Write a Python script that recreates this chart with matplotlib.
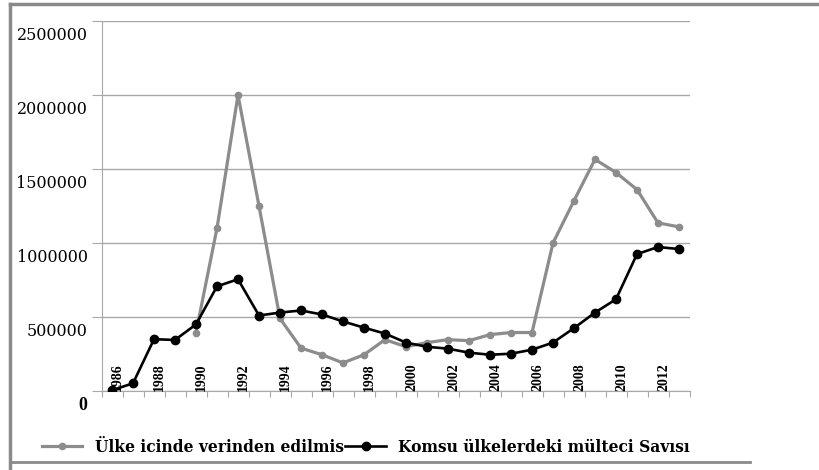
import matplotlib.pyplot as plt
from matplotlib.lines import Line2D
from matplotlib.transforms import ScaledTranslation

# data
years = list(range(1986, 2014))
idp = [None, None, None, None,
       395000, 1100000, 2000000, 1250000, 490000, 290000, 245000, 190000,
       245000, 347000, 299000, 327000, 347000, 340000, 381000, 395000,
       395000, 1000000, 1286000, 1565000, 1476000, 1361000, 1136000, 1109000]
refugees = [5000, 52000, 350000, 345000, 450000, 707000, 755000, 510000,
            530000, 544000, 517000, 470000, 428000, 388000, 327000, 299000,
            286000, 259000, 245000, 252000, 279000, 327000, 425000, 530000,
            620000, 925000, 973000, 959000]
year_labels = [str(y) for y in range(1986, 2013, 2)]
y_ticks = [0, 500000, 1000000, 1500000, 2000000, 2500000]
series_names = ["Ülke icinde verinden edilmis", "Komsu ülkelerdeki mülteci Savısı"]

fig = plt.figure(figsize=(8.19, 4.70), dpi=100)
ax = fig.add_axes([101.5 / 819, 1 - 391 / 470, 588 / 819, 370 / 470])

gx = [y for y, v in zip(years, idp) if v is not None]
gv = [v for v in idp if v is not None]
ax.plot(gx, gv, color="#8c8c8c", lw=2.3, marker="o", ms=4.5, zorder=3)
ax.plot(years, refugees, color="black", lw=1.9, marker="o", ms=6, zorder=4)

ax.set_xlim(1985.5, 2013.5)
ax.set_ylim(0, 2500000)

# y axis: gridlines, labels shifted down a bit like the original
ax.set_yticks(y_ticks)
ax.set_yticklabels([str(v) for v in y_ticks], fontsize=11.5, family="DejaVu Serif")
ax.yaxis.grid(True, color="#a8a8a8", lw=1)
ax.tick_params(axis="y", length=7, color="#a8a8a8", pad=3)
ax.set_axisbelow(True)
shift = ScaledTranslation(0, -12 / 100, fig.dpi_scale_trans)
for lab in ax.get_yticklabels():
    lab.set_transform(lab.get_transform() + shift)
ylabs = ax.get_yticklabels()
ylabs[0].set_fontweight("bold")
ylabs[0].set_family("Liberation Serif")
ylabs[0].set_fontsize(13)

# x axis: ticks between categories, year labels drawn inside the plot
ax.set_xticks([y - 0.5 for y in years] + [years[-1] + 0.5])
ax.set_xticklabels([])
ax.tick_params(axis="x", length=4, color="#a8a8a8", direction="out")
for lab in year_labels:
    ax.text(int(lab) + 0.28, 0, lab, rotation=90, ha="center", va="bottom",
            fontsize=10, fontweight="bold", family="Liberation Serif")

for s in ["top", "right"]:
    ax.spines[s].set_visible(False)
ax.spines["left"].set_color("#a8a8a8")
ax.spines["bottom"].set_color("#a8a8a8")

handles = [Line2D([], [], color="#8c8c8c", lw=2.3, marker="o", ms=4.5),
           Line2D([], [], color="black", lw=1.9, marker="o", ms=6)]
fig.legend(handles, series_names, loc="center left", ncol=2,
           bbox_to_anchor=(42 / 819, 1 - 447 / 470), frameon=False,
           prop={"family": "DejaVu Serif", "weight": "bold", "size": 11.2},
           handlelength=2.6, handletextpad=0.8, columnspacing=0.1,
           borderpad=0, borderaxespad=0)

# outer frame of the screenshot
frame = "#8a8a8a"
fig.add_artist(Line2D([10 / 819, 10 / 819], [0, 1 - 4 / 470], color=frame, lw=2.5,
                      transform=fig.transFigure))
fig.add_artist(Line2D([10 / 819, 1], [1 - 4 / 470, 1 - 4 / 470], color=frame, lw=2.5,
                      transform=fig.transFigure))
fig.add_artist(Line2D([10 / 819, 750 / 819], [1 - 462 / 470, 1 - 462 / 470], color=frame,
                      lw=2, transform=fig.transFigure))

fig.savefig("out.png", dpi=100)
